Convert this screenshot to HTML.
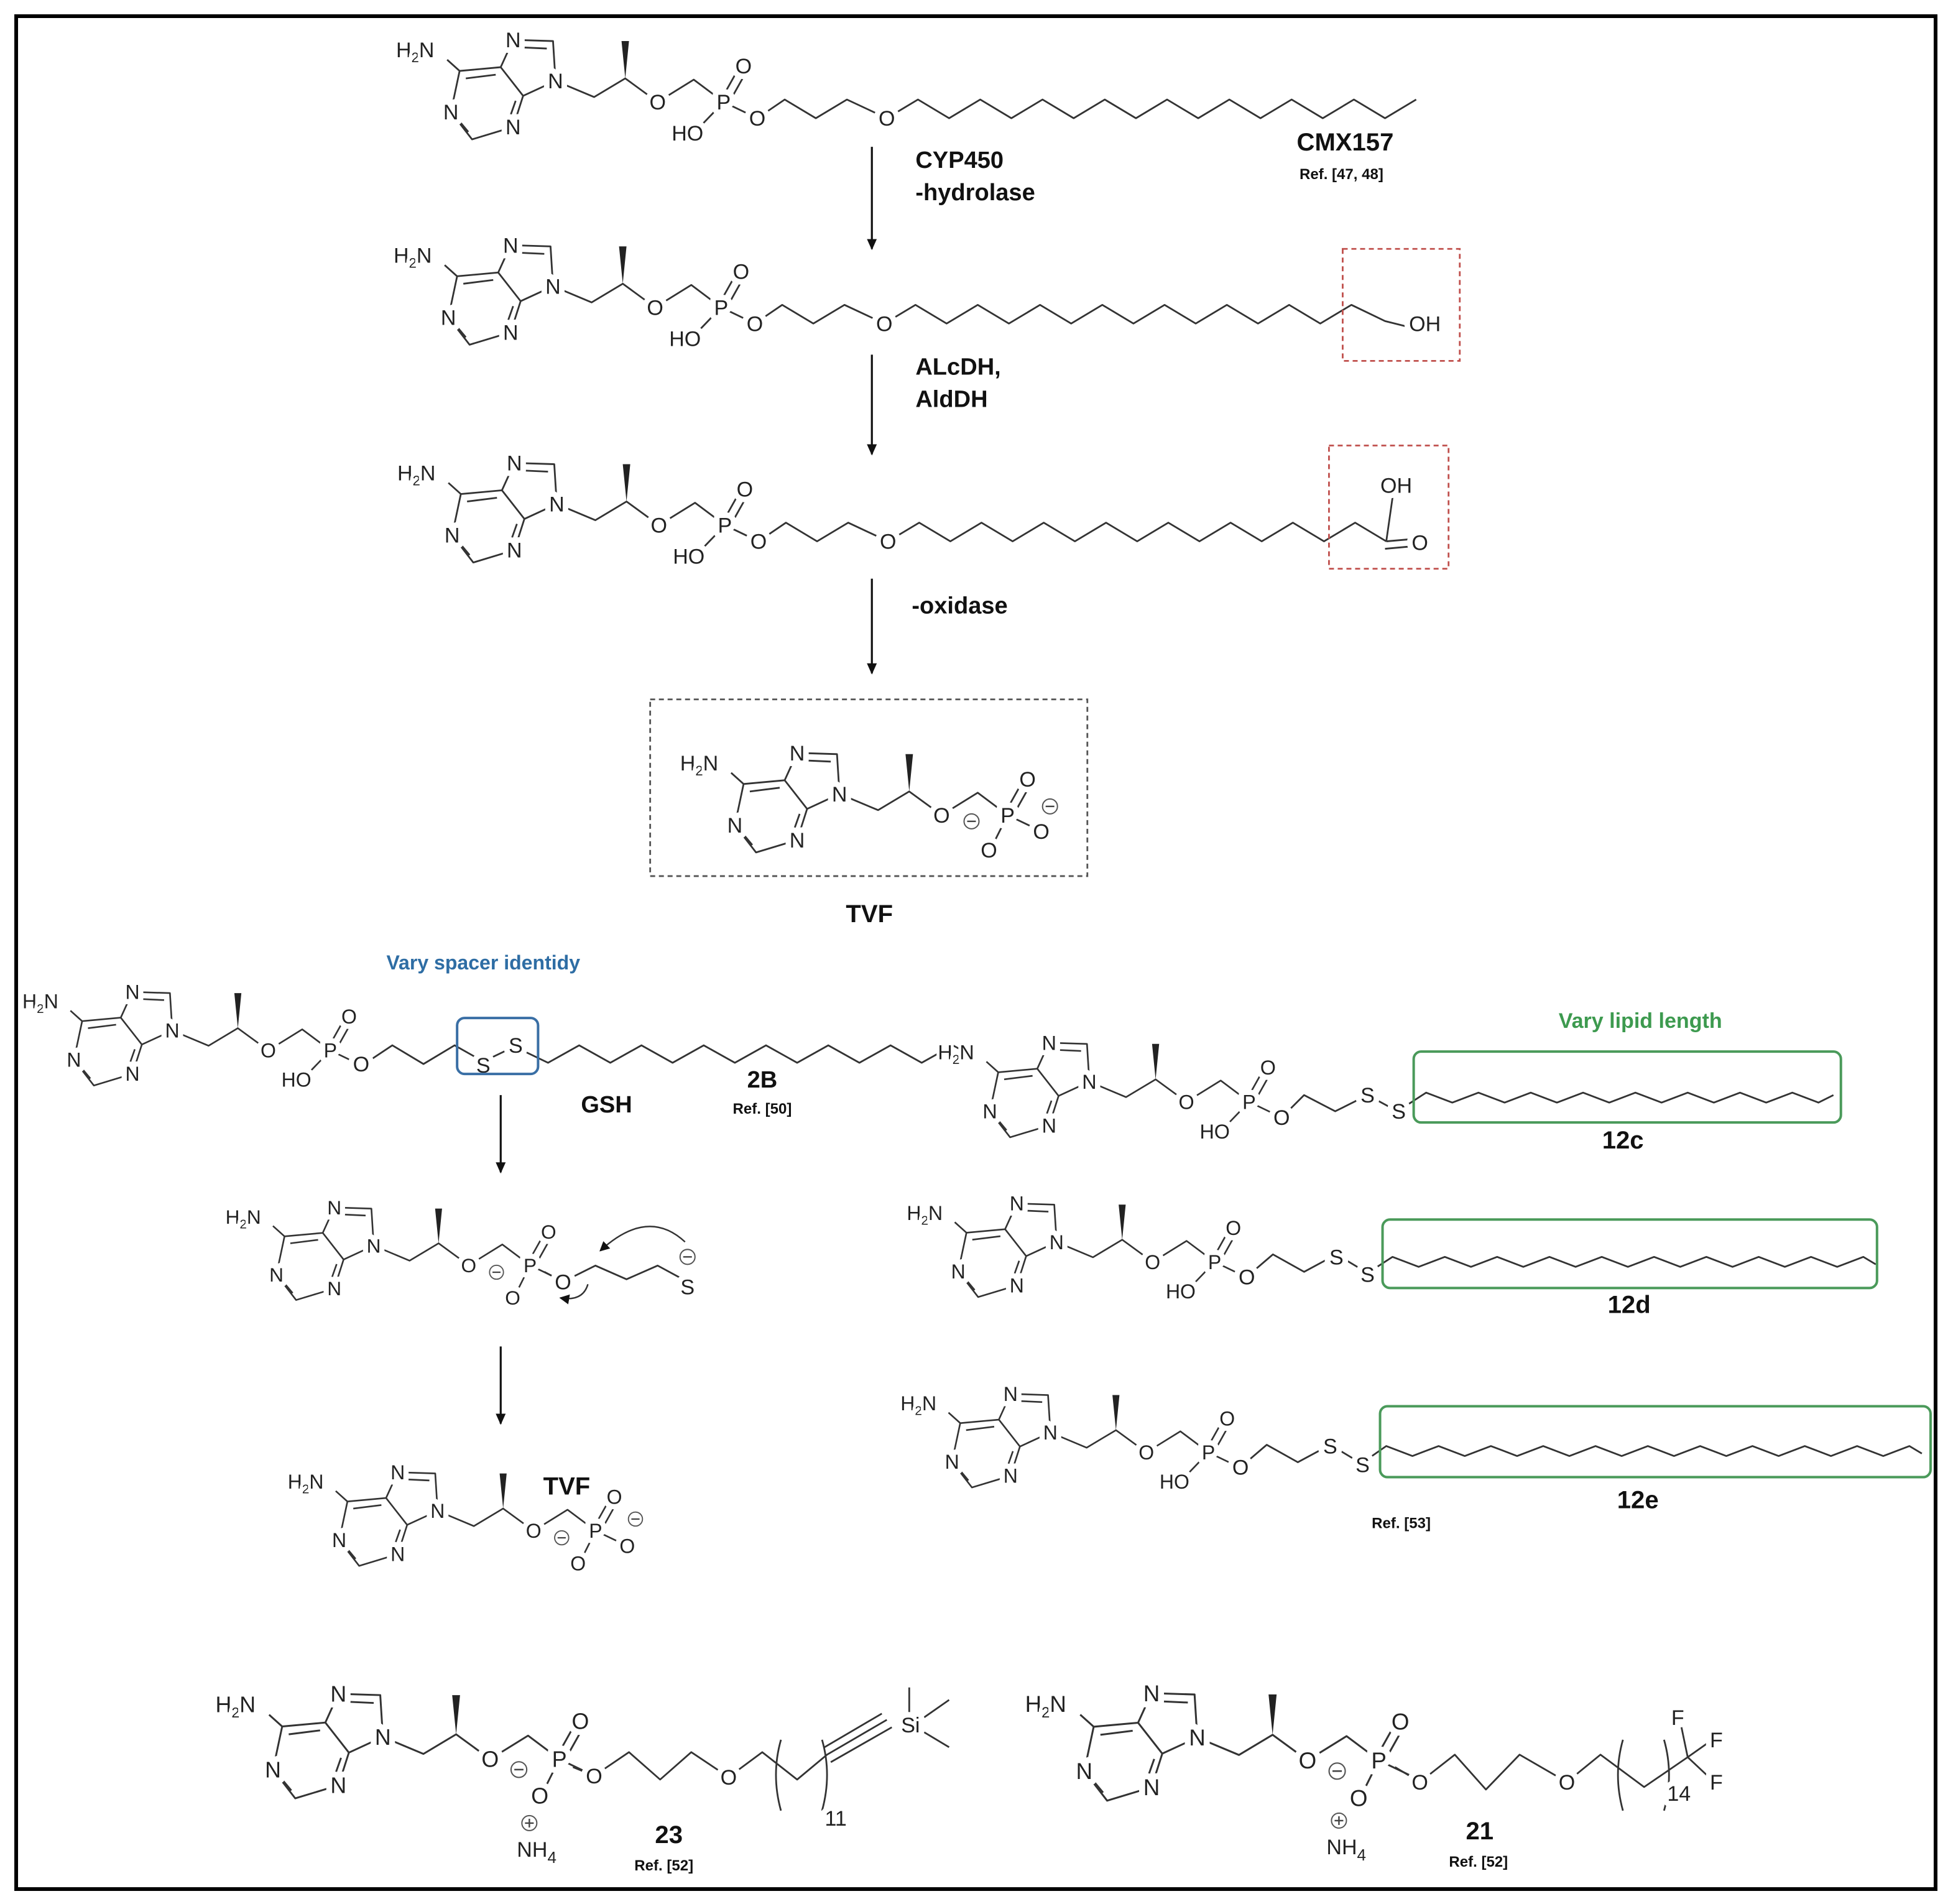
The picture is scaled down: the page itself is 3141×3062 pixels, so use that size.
<!DOCTYPE html>
<html><head><meta charset="utf-8"><style>
html,body{margin:0;padding:0;background:#fff}
svg{display:block}
.t{font-family:"Liberation Sans",Arial,sans-serif;font-size:17px;fill:#222;text-anchor:middle;stroke:#fff;stroke-width:9;paint-order:stroke;stroke-linejoin:round}
.h{font-family:"Liberation Sans",Arial,sans-serif;font-size:17px;fill:#222;stroke:#fff;stroke-width:5;paint-order:stroke}
.b{font-family:"Liberation Sans",Arial,sans-serif;font-weight:bold;fill:#111;text-anchor:middle}
.ln{fill:none;stroke:#333;stroke-width:1.4;stroke-linejoin:round}
</style></head><body>
<svg width="3141" height="3062" viewBox="0 0 1568 1530" preserveAspectRatio="none" xmlns="http://www.w3.org/2000/svg">
<defs>
<marker id="ar" markerWidth="10" markerHeight="10" refX="8" refY="5" orient="auto" markerUnits="userSpaceOnUse"><path d="M0,1 L9,5 L0,9 Z" fill="#111"/></marker>
<marker id="ar2" markerWidth="10" markerHeight="10" refX="7" refY="5" orient="auto" markerUnits="userSpaceOnUse"><path d="M0,1 L8,5 L0,9 Z" fill="#111"/></marker>
<g id="core">
<path class="ln" d="M41,-2 L51,7 M51,7 L84,4 L102,27 L94,52 L61,62 L44,40 Z M56,13 L80,10 M96,31 L90,48 M58,56 L48,44 M84,4 L94,-18 L126,-17 L128,15 L102,27 M99,-12 L121,-11 M128,15 L159,28 L184,13 L210,32 L239,14 L263,32"/>
<polygon points="184,13 181,-17 187,-17" fill="#222"/>
</g>
<g id="pn"><path class="ln" d="M261,30 L275,5 M267,33 L281,8 M263,32 L239,57 M263,32 L290,45"/></g>
<g id="pa"><path class="ln" d="M261,30 L275,5 M267,33 L281,8 M263,32 L290,45 M263,32 L249,60"/></g>
<g id="mi"><circle r="6" fill="#fff" stroke="#555" stroke-width="1"/><line x1="-3.5" y1="0" x2="3.5" y2="0" stroke="#444" stroke-width="1.2"/></g>
<g id="pl"><circle r="6" fill="#fff" stroke="#555" stroke-width="1"/><line x1="-3.5" y1="0" x2="3.5" y2="0" stroke="#444" stroke-width="1.2"/><line x1="0" y1="-3.5" x2="0" y2="3.5" stroke="#444" stroke-width="1.2"/></g>
</defs>

<rect x="13" y="13" width="1541" height="1505" fill="none" stroke="#000" stroke-width="3"/>

<g transform="translate(318,50)"><use href="#core"/><use href="#pn"/>
<text class="h" x="0" y="-4">H<tspan font-size="11" dy="4">2</tspan><tspan dy="-4">N</tspan></text>
<text class="t" x="44" y="46">N</text><text class="t" x="94" y="58">N</text><text class="t" x="94" y="-12">N</text><text class="t" x="128" y="21">N</text>
<text class="t" x="210" y="38">O</text><text class="t" x="263" y="38">P</text><text class="t" x="279" y="9">O</text><text class="t" x="234" y="63">HO</text></g>
<path class="ln" d="M608,95 L630,80 L655,95 L680,80 L712,95 l25,-15 l25,15 l25,-15 l25,15 l25,-15 l25,15 l25,-15 l25,15 l25,-15 l25,15 l25,-15 l25,15 l25,-15 l25,15 l25,-15 l25,15 l25,-15"/>
<text class="t" x="608" y="101">O</text><text class="t" x="712" y="101">O</text>
<text class="b" x="1080" y="121" font-size="20">CMX157</text>
<text class="b" x="1077" y="144" font-size="12">Ref. [47, 48]</text>

<line x1="700" y1="118" x2="700" y2="200" stroke="#111" stroke-width="1.6" marker-end="url(#ar)"/>
<text class="b" x="735" y="135" font-size="19" style="text-anchor:start">CYP450</text>
<text class="b" x="735" y="161" font-size="19" style="text-anchor:start">-hydrolase</text>

<g transform="translate(316,215)"><use href="#core"/><use href="#pn"/>
<text class="h" x="0" y="-4">H<tspan font-size="11" dy="4">2</tspan><tspan dy="-4">N</tspan></text>
<text class="t" x="44" y="46">N</text><text class="t" x="94" y="58">N</text><text class="t" x="94" y="-12">N</text><text class="t" x="128" y="21">N</text>
<text class="t" x="210" y="38">O</text><text class="t" x="263" y="38">P</text><text class="t" x="279" y="9">O</text><text class="t" x="234" y="63">HO</text></g>
<path class="ln" d="M606,260 L628,245 L653,260 L678,245 L710,260 l25,-15 l25,15 l25,-15 l25,15 l25,-15 l25,15 l25,-15 l25,15 l25,-15 l25,15 l25,-15 l25,15 l25,-15 l25,15 L1085,245 L1112,258 L1128,262"/>
<text class="t" x="606" y="266">O</text><text class="t" x="710" y="266">O</text>
<text class="t" x="1144" y="266">OH</text>
<rect x="1078" y="200" width="94" height="90" fill="none" stroke="#c0504d" stroke-width="1.4" stroke-dasharray="4,3"/>

<line x1="700" y1="285" x2="700" y2="365" stroke="#111" stroke-width="1.6" marker-end="url(#ar)"/>
<text class="b" x="735" y="301" font-size="19" style="text-anchor:start">ALcDH,</text>
<text class="b" x="735" y="327" font-size="19" style="text-anchor:start">AldDH</text>

<g transform="translate(319,390)"><use href="#core"/><use href="#pn"/>
<text class="h" x="0" y="-4">H<tspan font-size="11" dy="4">2</tspan><tspan dy="-4">N</tspan></text>
<text class="t" x="44" y="46">N</text><text class="t" x="94" y="58">N</text><text class="t" x="94" y="-12">N</text><text class="t" x="128" y="21">N</text>
<text class="t" x="210" y="38">O</text><text class="t" x="263" y="38">P</text><text class="t" x="279" y="9">O</text><text class="t" x="234" y="63">HO</text></g>
<path class="ln" d="M609,435 L631,420 L656,435 L681,420 L713,435 l25,-15 l25,15 l25,-15 l25,15 l25,-15 l25,15 l25,-15 l25,15 l25,-15 l25,15 l25,-15 l25,15 l25,-15 l25,15 L1088,420 L1113,435 M1113,435 L1118,400 M1113,435 L1136,433 M1112,441 L1134,439"/>
<text class="t" x="609" y="441">O</text><text class="t" x="713" y="441">O</text>
<text class="t" x="1121" y="396">OH</text><text class="t" x="1140" y="442">O</text>
<rect x="1067" y="358" width="96" height="99" fill="none" stroke="#c0504d" stroke-width="1.4" stroke-dasharray="4,3"/>

<line x1="700" y1="465" x2="700" y2="541" stroke="#111" stroke-width="1.6" marker-end="url(#ar)"/>
<text class="b" x="732" y="493" font-size="19" style="text-anchor:start">-oxidase</text>

<rect x="522" y="562" width="351" height="142" fill="none" stroke="#555" stroke-width="1.4" stroke-dasharray="4,3"/>
<g transform="translate(546,623)"><use href="#core"/><use href="#pa"/>
<text class="h" x="0" y="-4">H<tspan font-size="11" dy="4">2</tspan><tspan dy="-4">N</tspan></text>
<text class="t" x="44" y="46">N</text><text class="t" x="94" y="58">N</text><text class="t" x="94" y="-12">N</text><text class="t" x="128" y="21">N</text>
<text class="t" x="210" y="38">O</text><text class="t" x="263" y="38">P</text><text class="t" x="279" y="9">O</text><text class="t" x="290" y="51">O</text><text class="t" x="248" y="66">O</text>
<use href="#mi" x="234" y="37"/><use href="#mi" x="297" y="25"/></g>
<text class="b" x="698" y="741" font-size="20">TVF</text>

<text class="b" x="388" y="779" font-size="16" style="fill:#2e6da4">Vary spacer identidy</text>
<g transform="translate(18,814) scale(0.94)"><use href="#core"/><use href="#pn"/>
<text class="h" x="0" y="-4">H<tspan font-size="11" dy="4">2</tspan><tspan dy="-4">N</tspan></text>
<text class="t" x="44" y="46">N</text><text class="t" x="94" y="58">N</text><text class="t" x="94" y="-12">N</text><text class="t" x="128" y="21">N</text>
<text class="t" x="210" y="38">O</text><text class="t" x="263" y="38">P</text><text class="t" x="279" y="9">O</text><text class="t" x="234" y="63">HO</text></g>
<path class="ln" d="M291,856 L315,840 L340,855 L365,840 L388,853 L413,841 L440,854 l25,-14 l25,14 l25,-14 l25,14 l25,-14 l25,14 l25,-14 l25,14 l25,-14 l25,14 l25,-14 l25,14 l25,-14 l15,8"/>
<text class="t" x="290" y="861">O</text>
<text class="t" x="388" y="862">S</text><text class="t" x="414" y="846">S</text>
<rect x="367" y="818" width="65" height="45" rx="6" fill="none" stroke="#3a6fa5" stroke-width="2"/>
<text class="b" x="487" y="894" font-size="19">GSH</text>
<text class="b" x="612" y="874" font-size="19">2B</text>
<text class="b" x="612" y="895" font-size="12">Ref. [50]</text>

<line x1="402" y1="880" x2="402" y2="942" stroke="#111" stroke-width="1.6" marker-end="url(#ar)"/>
<line x1="402" y1="1082" x2="402" y2="1144" stroke="#111" stroke-width="1.6" marker-end="url(#ar)"/>

<g transform="translate(181,987) scale(0.93)"><use href="#core"/><use href="#pa"/>
<text class="h" x="0" y="-4">H<tspan font-size="11" dy="4">2</tspan><tspan dy="-4">N</tspan></text>
<text class="t" x="44" y="46">N</text><text class="t" x="94" y="58">N</text><text class="t" x="94" y="-12">N</text><text class="t" x="128" y="21">N</text>
<text class="t" x="210" y="38">O</text><text class="t" x="263" y="38">P</text><text class="t" x="279" y="9">O</text><text class="t" x="248" y="66">O</text>
<use href="#mi" x="234" y="38"/></g>
<path class="ln" d="M437,1022 L452,1030 L478,1017 L503,1028 L528,1017 L552,1030"/>
<text class="t" x="452" y="1036">O</text>
<text class="t" x="552" y="1040">S</text>
<use href="#mi" x="552" y="1010"/>
<path d="M550,998 Q520,970 482,1005" fill="none" stroke="#333" stroke-width="1.2" marker-end="url(#ar2)"/>
<path d="M472,1032 Q468,1046 450,1043" fill="none" stroke="#333" stroke-width="1.2" marker-end="url(#ar2)"/>

<g transform="translate(231,1200) scale(0.94)"><use href="#core"/><use href="#pa"/>
<text class="h" x="0" y="-4">H<tspan font-size="11" dy="4">2</tspan><tspan dy="-4">N</tspan></text>
<text class="t" x="44" y="46">N</text><text class="t" x="94" y="58">N</text><text class="t" x="94" y="-12">N</text><text class="t" x="128" y="21">N</text>
<text class="t" x="210" y="38">O</text><text class="t" x="263" y="38">P</text><text class="t" x="279" y="9">O</text><text class="t" x="290" y="51">O</text><text class="t" x="248" y="66">O</text>
<use href="#mi" x="234" y="38"/><use href="#mi" x="297" y="22"/></g>
<text class="b" x="455" y="1201" font-size="20">TVF</text>

<text class="b" x="1317" y="826" font-size="17" style="fill:#3d9a4f">Vary lipid length</text>
<g transform="translate(753,855) scale(0.95)"><use href="#core"/><use href="#pn"/>
<text class="h" x="0" y="-4">H<tspan font-size="11" dy="4">2</tspan><tspan dy="-4">N</tspan></text>
<text class="t" x="44" y="46">N</text><text class="t" x="94" y="58">N</text><text class="t" x="94" y="-12">N</text><text class="t" x="128" y="21">N</text>
<text class="t" x="210" y="38">O</text><text class="t" x="263" y="38">P</text><text class="t" x="279" y="9">O</text><text class="t" x="234" y="63">HO</text></g>
<path class="ln" d="M1029,898 L1047,880 L1072,893 L1098,880 L1122,893 L1145,878 l21,8 l21,-8 l21,8 l21,-8 l21,8 l21,-8 l21,8 l21,-8 l21,8 l21,-8 l21,8 l21,-8 l21,8 l21,-8 l21,8 l12,-6"/>
<text class="t" x="1029" y="904">O</text><text class="t" x="1098" y="886">S</text><text class="t" x="1123" y="899">S</text>
<rect x="1135" y="845" width="343" height="57" rx="6" fill="none" stroke="#4a9a5a" stroke-width="2"/>
<text class="b" x="1303" y="923" font-size="20">12c</text>

<g transform="translate(728,984) scale(0.94)"><use href="#core"/><use href="#pn"/>
<text class="h" x="0" y="-4">H<tspan font-size="11" dy="4">2</tspan><tspan dy="-4">N</tspan></text>
<text class="t" x="44" y="46">N</text><text class="t" x="94" y="58">N</text><text class="t" x="94" y="-12">N</text><text class="t" x="128" y="21">N</text>
<text class="t" x="210" y="38">O</text><text class="t" x="263" y="38">P</text><text class="t" x="279" y="9">O</text><text class="t" x="234" y="63">HO</text></g>
<path class="ln" d="M1001,1026 L1022,1008 L1047,1022 L1073,1008 L1098,1023 L1118,1010 l21,8 l21,-8 l21,8 l21,-8 l21,8 l21,-8 l21,8 l21,-8 l21,8 l21,-8 l21,8 l21,-8 l21,8 l21,-8 l21,8 l21,-8 l21,8 l21,-8 l10,6"/>
<text class="t" x="1001" y="1032">O</text><text class="t" x="1073" y="1016">S</text><text class="t" x="1098" y="1030">S</text>
<rect x="1110" y="980" width="397" height="55" rx="6" fill="none" stroke="#4a9a5a" stroke-width="2"/>
<text class="b" x="1308" y="1055" font-size="20">12d</text>

<g transform="translate(723,1137) scale(0.94)"><use href="#core"/><use href="#pn"/>
<text class="h" x="0" y="-4">H<tspan font-size="11" dy="4">2</tspan><tspan dy="-4">N</tspan></text>
<text class="t" x="44" y="46">N</text><text class="t" x="94" y="58">N</text><text class="t" x="94" y="-12">N</text><text class="t" x="128" y="21">N</text>
<text class="t" x="210" y="38">O</text><text class="t" x="263" y="38">P</text><text class="t" x="279" y="9">O</text><text class="t" x="234" y="63">HO</text></g>
<path class="ln" d="M996,1179 L1017,1161 L1042,1175 L1068,1161 L1093,1176 L1113,1162 l21,8 l21,-8 l21,8 l21,-8 l21,8 l21,-8 l21,8 l21,-8 l21,8 l21,-8 l21,8 l21,-8 l21,8 l21,-8 l21,8 l21,-8 l21,8 l21,-8 l21,8 l21,-8 l10,6"/>
<text class="t" x="996" y="1185">O</text><text class="t" x="1068" y="1168">S</text><text class="t" x="1094" y="1183">S</text>
<rect x="1108" y="1130" width="442" height="57" rx="6" fill="none" stroke="#4a9a5a" stroke-width="2"/>
<text class="b" x="1315" y="1212" font-size="20">12e</text>
<text class="b" x="1125" y="1228" font-size="12">Ref. [53]</text>

<g transform="translate(173,1380) scale(1.05)"><use href="#core"/><use href="#pa"/>
<text class="h" x="0" y="-4">H<tspan font-size="11" dy="4">2</tspan><tspan dy="-4">N</tspan></text>
<text class="t" x="44" y="46">N</text><text class="t" x="94" y="58">N</text><text class="t" x="94" y="-12">N</text><text class="t" x="128" y="21">N</text>
<text class="t" x="210" y="38">O</text><text class="t" x="263" y="38">P</text><text class="t" x="279" y="9">O</text><text class="t" x="248" y="66">O</text>
<use href="#mi" x="232" y="40"/></g>
<path class="ln" d="M460,1420 L477,1427 L505,1408 L530,1430 L555,1408 L585,1428 L612,1408 L640,1430 L664,1410 L712,1382 M662,1404 L708,1377 M667,1416 L716,1388 M730,1376 L730,1356 M742,1380 L762,1366 M742,1392 L762,1404 M627,1398 Q619,1426 627,1455 M660,1398 Q668,1426 660,1455"/>
<text class="t" x="477" y="1433">O</text><text class="t" x="585" y="1434">O</text>
<text class="t" x="731" y="1392">Si</text>
<text class="t" x="671" y="1467" font-size="12">11</text>
<use href="#pl" x="425" y="1465"/>
<text class="h" x="415" y="1492" font-size="20">NH<tspan font-size="13" dy="5">4</tspan></text>
<text class="b" x="537" y="1481" font-size="20">23</text>
<text class="b" x="533" y="1503" font-size="12">Ref. [52]</text>

<g transform="translate(823,1380) scale(1.08)"><use href="#core"/><use href="#pa"/>
<text class="h" x="0" y="-4">H<tspan font-size="11" dy="4">2</tspan><tspan dy="-4">N</tspan></text>
<text class="t" x="44" y="46">N</text><text class="t" x="94" y="58">N</text><text class="t" x="94" y="-12">N</text><text class="t" x="128" y="21">N</text>
<text class="t" x="210" y="38">O</text><text class="t" x="263" y="38">P</text><text class="t" x="279" y="9">O</text><text class="t" x="248" y="66">O</text>
<use href="#mi" x="232" y="40"/></g>
<path class="ln" d="M1120,1420 L1140,1432 L1168,1410 L1193,1438 L1220,1410 L1258,1432 L1285,1410 L1320,1436 L1355,1412 M1355,1412 L1350,1388 M1355,1412 L1372,1400 M1355,1412 L1372,1428 M1303,1398 Q1295,1426 1303,1455 M1336,1398 Q1344,1426 1336,1455"/>
<text class="t" x="1140" y="1438">O</text><text class="t" x="1258" y="1438">O</text>
<text class="t" x="1347" y="1386">F</text><text class="t" x="1378" y="1404">F</text><text class="t" x="1378" y="1438">F</text>
<text class="t" x="1348" y="1447" font-size="12">14</text>
<use href="#pl" x="1075" y="1463"/>
<text class="h" x="1065" y="1490" font-size="20">NH<tspan font-size="13" dy="5">4</tspan></text>
<text class="b" x="1188" y="1478" font-size="20">21</text>
<text class="b" x="1187" y="1500" font-size="12">Ref. [52]</text>
</svg>
</body></html>
